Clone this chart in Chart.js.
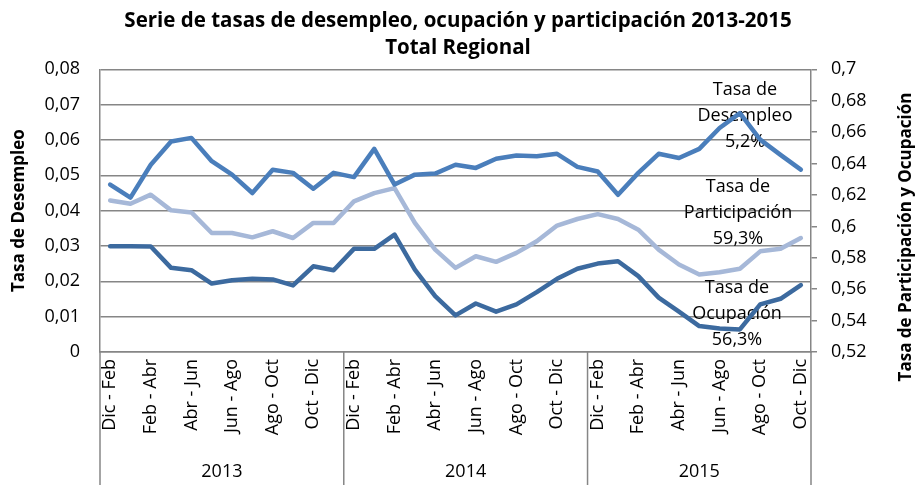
<!DOCTYPE html>
<html lang="es">
<head>
<meta charset="utf-8">
<title>Serie de tasas de desempleo, ocupación y participación 2013-2015</title>
<script src="https://cdn.jsdelivr.net/npm/chart.js@4.4.1/dist/chart.umd.min.js"></script>
<style>
  html, body { margin: 0; padding: 0; background: #fff; }
  canvas { display: block; }
</style>
</head>
<body>
<canvas id="chart" width="916" height="485" style="width:916px;height:485px"></canvas>
<script>
// ── datos ──
const years = ['2013', '2014', '2015'];
const periodsPerYear = [12, 12, 11];
const periods = ['Dic - Feb', 'Ene - Mar', 'Feb - Abr', 'Mar - May', 'Abr - Jun', 'May - Jul',
                 'Jun - Ago', 'Jul - Sep', 'Ago - Oct', 'Sep - Nov', 'Oct - Dic', 'Nov - Ene'];

// tasa de desempleo (eje izquierdo)
const desempleo = [
  0.0474, 0.0437, 0.0530, 0.0596, 0.0606, 0.0540, 0.0502, 0.0450, 0.0516, 0.0507, 0.0462, 0.0507,
  0.0495, 0.0575, 0.0474, 0.0502, 0.0505, 0.0530, 0.0521, 0.0547, 0.0556, 0.0554, 0.0561, 0.0524,
  0.0511, 0.0445, 0.0507, 0.0561, 0.0549, 0.0575, 0.0634, 0.0676, 0.0601, 0.0558, 0.0516
];
// tasa de participación (eje derecho)
const participacion = [
  0.6165, 0.6144, 0.6202, 0.6102, 0.6089, 0.5958, 0.5958, 0.5930, 0.5969, 0.5926, 0.6022, 0.6022,
  0.6159, 0.6212, 0.6244, 0.6022, 0.5852, 0.5736, 0.5810, 0.5774, 0.5831, 0.5905, 0.6005, 0.6047,
  0.6078, 0.6047, 0.5979, 0.5852, 0.5757, 0.5694, 0.5708, 0.5730, 0.5841, 0.5857, 0.5926
];
// tasa de ocupación (eje derecho)
const ocupacion = [
  0.5873, 0.5873, 0.5872, 0.5736, 0.5721, 0.5636, 0.5657, 0.5666, 0.5662, 0.5624, 0.5746, 0.5721,
  0.5857, 0.5857, 0.5948, 0.5725, 0.5556, 0.5433, 0.5509, 0.5457, 0.5503, 0.5581, 0.5666, 0.5730,
  0.5763, 0.5778, 0.5683, 0.5546, 0.5457, 0.5365, 0.5349, 0.5344, 0.5503, 0.5539, 0.5626
];

const notes = [
  ['Tasa de', 'Desempleo', '5,2%'],
  ['Tasa de', 'Participación', '59,3%'],
  ['Tasa de', 'Ocupación', '56,3%']
];

// etiquetas del eje x (cada año repite los trimestres móviles)
const labels = [];
periodsPerYear.forEach(n => labels.push(...periods.slice(0, n)));

const FONT = '"Open Sans", "Noto Sans", sans-serif';
const AXIS = '#868686';
const fmt = v => String(+v.toFixed(2)).replace('.', ',');

// títulos de ejes, años y textos
const extras = {
  id: 'extras',
  beforeDatasetsDraw(chart) {
    const { ctx, chartArea: a } = chart;
    const pos = [[a.right - 66, 90], [a.right - 73, 187], [a.right - 74, 288]];
    ctx.save();
    ctx.fillStyle = '#000';
    ctx.font = `18px ${FONT}`;
    ctx.textAlign = 'center';
    ctx.textBaseline = 'middle';
    notes.forEach((lines, i) => {
      lines.forEach((t, j) => ctx.fillText(t, pos[i][0], pos[i][1] + j * 26));
    });
    ctx.restore();
  },
  afterDraw(chart) {
    const { ctx, chartArea: a } = chart;
    const x = chart.scales.x;
    const step = x.getPixelForValue(1) - x.getPixelForValue(0);
    const edges = [a.left];
    let idx = 0;
    periodsPerYear.forEach(n => { idx += n; edges.push(x.getPixelForValue(idx - 1) + step / 2); });

    ctx.save();
    ctx.strokeStyle = AXIS;
    ctx.lineWidth = 1.5;
    edges.forEach(e => {
      ctx.beginPath();
      ctx.moveTo(e, a.bottom);
      ctx.lineTo(e, chart.height);
      ctx.stroke();
    });
    ctx.fillStyle = '#000';
    ctx.font = `18px ${FONT}`;
    ctx.textAlign = 'center';
    ctx.textBaseline = 'middle';
    years.forEach((y, i) => ctx.fillText(y, (edges[i] + edges[i + 1]) / 2, 472));

    ctx.font = `bold 17px ${FONT}`;
    ctx.translate(19, (a.top + a.bottom) / 2);
    ctx.rotate(-Math.PI / 2);
    ctx.fillText('Tasa de Desempleo', 0, 0);
    ctx.restore();

    ctx.save();
    ctx.fillStyle = '#000';
    ctx.font = `bold 17px ${FONT}`;
    ctx.textAlign = 'center';
    ctx.textBaseline = 'middle';
    ctx.translate(906, 237);
    ctx.rotate(-Math.PI / 2);
    ctx.fillText('Tasa de Participación y Ocupación', 0, 0);
    ctx.restore();
  }
};

const lineStyle = { borderWidth: 4.5, pointRadius: 0, tension: 0, borderCapStyle: 'round', borderJoinStyle: 'round', fill: false };

new Chart(document.getElementById('chart'), {
  type: 'line',
  data: {
    labels,
    datasets: [
      { label: 'Tasa de Desempleo', data: desempleo, yAxisID: 'y', borderColor: '#4a7ebb', ...lineStyle },
      { label: 'Tasa de Participación', data: participacion, yAxisID: 'y2', borderColor: '#a6b8d8', ...lineStyle },
      { label: 'Tasa de Ocupación', data: ocupacion, yAxisID: 'y2', borderColor: '#3c6a9f', ...lineStyle }
    ]
  },
  options: {
    responsive: false,
    animation: false,
    layout: { padding: 0 },
    plugins: {
      legend: { display: false },
      tooltip: { enabled: false },
      title: {
        display: true,
        text: ['Serie de tasas de desempleo, ocupación y participación 2013-2015', 'Total Regional'],
        color: '#000',
        font: { family: FONT, size: 20.5, weight: 'bold', lineHeight: 1.35 },
        padding: { top: 7, bottom: 7 }
      }
    },
    scales: {
      x: {
        offset: true,
        grid: { display: false, drawTicks: false },
        border: { display: true, color: AXIS, width: 1.5 },
        ticks: {
          autoSkip: false,
          minRotation: 90,
          maxRotation: 90,
          padding: 7,
          color: '#000',
          font: { family: FONT, size: 18 },
          callback: (v, i) => (i % 2 === 0 ? labels[i] : '')
        },
        afterFit: s => { s.height = 133; }
      },
      y: {
        position: 'left',
        min: 0,
        max: 0.08,
        grid: { color: AXIS, lineWidth: 1.5, drawTicks: false },
        border: { display: true, color: AXIS, width: 1.5 },
        ticks: {
          stepSize: 0.01,
          padding: 20,
          color: '#000',
          font: { family: FONT, size: 18 },
          callback: fmt
        },
        afterFit: s => { s.width = 100; }
      },
      y2: {
        position: 'right',
        min: 0.52,
        max: 0.7,
        grid: { drawOnChartArea: false, color: AXIS, lineWidth: 1.5, tickLength: 6 },
        border: { display: true, color: AXIS, width: 1.5 },
        ticks: {
          stepSize: 0.02,
          padding: 14,
          color: '#000',
          font: { family: FONT, size: 18 },
          callback: fmt
        },
        afterFit: s => { s.width = 105; }
      }
    }
  },
  plugins: [extras]
});
</script>
</body>
</html>
